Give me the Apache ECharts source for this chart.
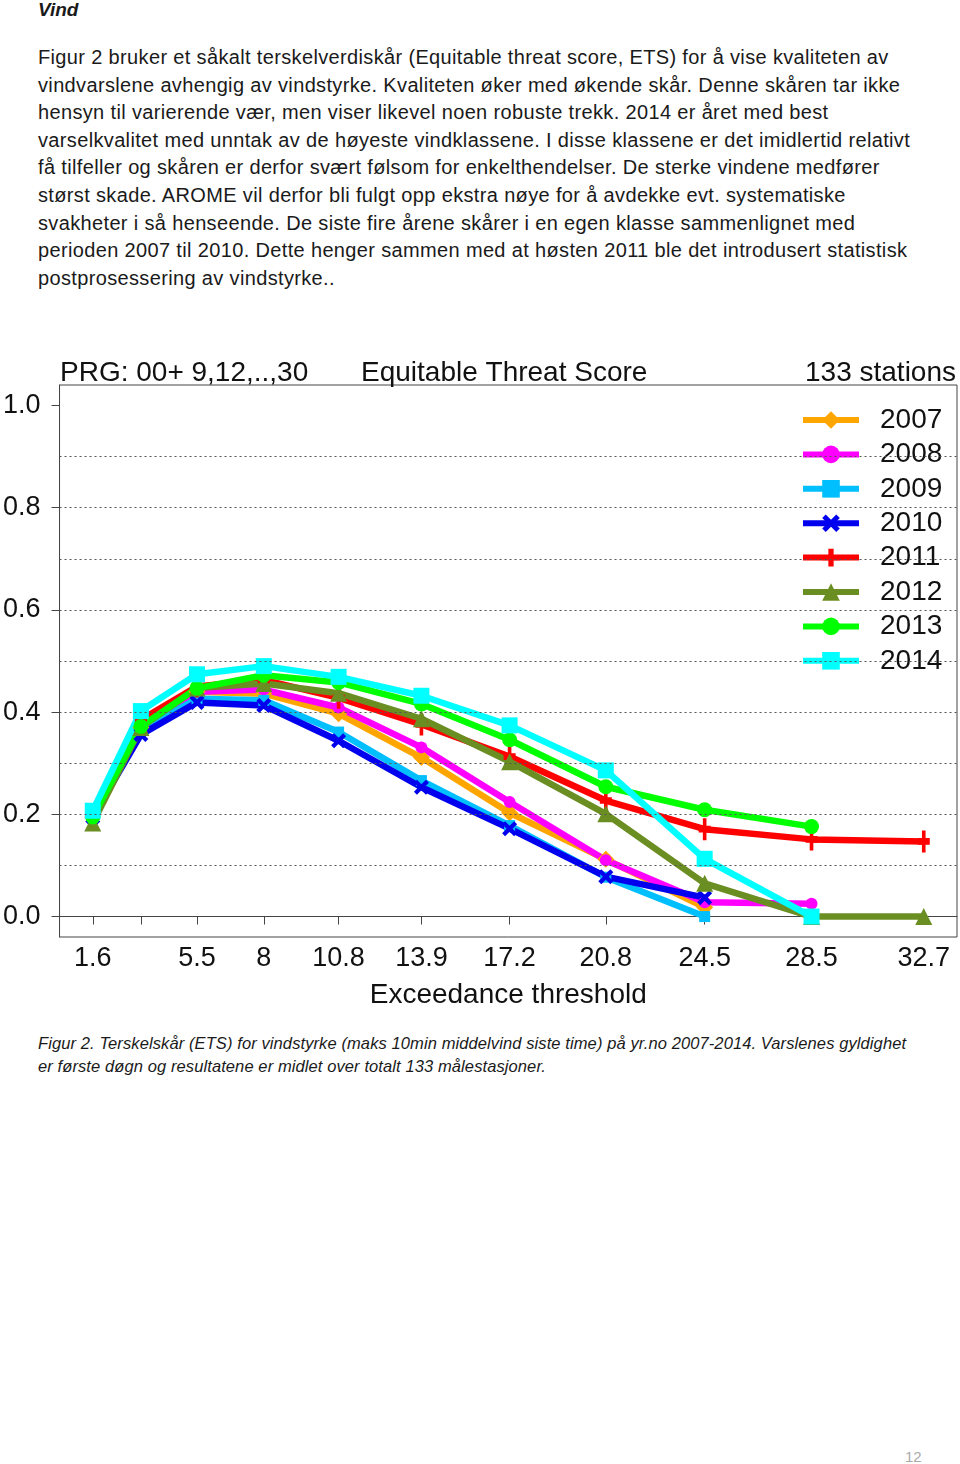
<!DOCTYPE html>
<html>
<head>
<meta charset="utf-8">
<script src="https://cdn.jsdelivr.net/npm/echarts@6/dist/echarts.min.js"></script>
<style>
  html, body { margin: 0; padding: 0; background: #fff; }
  body { width: 960px; height: 1464px; position: relative; overflow: hidden;
         font-family: "Liberation Sans", Arial, Helvetica, sans-serif; color: #1a1a1a; }
  #head { position: absolute; left: 38px; top: -1px; font-size: 19px; font-weight: bold; font-style: italic; }
  #prose { position: absolute; left: 38px; top: 44px; font-size: 20px; letter-spacing: 0.35px; line-height: 27.6px; white-space: pre; }
  #caption { position: absolute; left: 38px; top: 1032px; font-size: 16.5px; letter-spacing: 0.1px; line-height: 23px; font-style: italic; white-space: pre; }
  #page { position: absolute; left: 905px; top: 1448px; font-size: 15px; color: #aaa; }
  #chart { position: absolute; left: 0; top: 340px; width: 960px; height: 680px; }
</style>
</head>
<body>
<div id="head">Vind</div>
<div id="prose">Figur 2 bruker et såkalt terskelverdiskår (Equitable threat score, ETS) for å vise kvaliteten av
vindvarslene avhengig av vindstyrke. Kvaliteten øker med økende skår. Denne skåren tar ikke
hensyn til varierende vær, men viser likevel noen robuste trekk. 2014 er året med best
varselkvalitet med unntak av de høyeste vindklassene. I disse klassene er det imidlertid relativt
få tilfeller og skåren er derfor svært følsom for enkelthendelser. De sterke vindene medfører
størst skade. AROME vil derfor bli fulgt opp ekstra nøye for å avdekke evt. systematiske
svakheter i så henseende. De siste fire årene skårer i en egen klasse sammenlignet med
perioden 2007 til 2010. Dette henger sammen med at høsten 2011 ble det introdusert statistisk
postprosessering av vindstyrke..</div>
<div id="chart"></div>
<div id="caption">Figur 2. Terskelskår (ETS) for vindstyrke (maks 10min middelvind siste time) på yr.no 2007-2014. Varslenes gyldighet
er første døgn og resultatene er midlet over totalt 133 målestasjoner.</div>
<div id="page">12</div>
<script>
// ---- data ----
const thresholds = [1.6, 3.4, 5.5, 8, 10.8, 13.9, 17.2, 20.8, 24.5, 28.5, 32.7];
const xTickLabels = [1.6, 5.5, 8, 10.8, 13.9, 17.2, 20.8, 24.5, 28.5, 32.7];
const yTickValues = [0, 0.2, 0.4, 0.6, 0.8, 1.0];
const gridValues = [0.1, 0.2, 0.3, 0.4, 0.5, 0.6, 0.7, 0.8, 0.9];
const years = ['2007', '2008', '2009', '2010', '2011', '2012', '2013', '2014'];
const ets2007 = [0.195, 0.370, 0.440, 0.436, 0.397, 0.311, 0.203, 0.112, 0.018];
const ets2008 = [0.195, 0.370, 0.440, 0.444, 0.409, 0.331, 0.224, 0.110, 0.028, 0.025];
const ets2009 = [0.200, 0.365, 0.426, 0.423, 0.361, 0.266, 0.178, 0.077, 0.000];
const ets2010 = [0.195, 0.356, 0.419, 0.413, 0.344, 0.253, 0.172, 0.078, 0.037];
const ets2011 = [0.195, 0.385, 0.450, 0.463, 0.428, 0.376, 0.313, 0.227, 0.171, 0.151, 0.147];
const ets2012 = [0.183, 0.370, 0.447, 0.456, 0.437, 0.387, 0.303, 0.201, 0.065, 0.000, 0.000];
const ets2013 = [0.195, 0.372, 0.447, 0.472, 0.458, 0.416, 0.346, 0.254, 0.209, 0.176];
const ets2014 = [0.207, 0.402, 0.474, 0.490, 0.469, 0.432, 0.374, 0.286, 0.113, 0.000];
const seriesValues = [ets2007, ets2008, ets2009, ets2010, ets2011, ets2012, ets2013, ets2014];

// ---- styles ----
const colors = ['#FFA500', '#FF00FF', '#00BFFF', '#0000EE', '#FF0000', '#6B8E23', '#00FF00', '#00FFFF'];
const XPATH = 'path://M0,2 L2,0 L5,3 L8,0 L10,2 L7,5 L10,8 L8,10 L5,7 L2,10 L0,8 L3,5 Z';
const PLUS = 'path://M3.5,0 H6.5 V3.5 H10 V6.5 H6.5 V10 H3.5 V6.5 H0 V3.5 H3.5 Z';
const symbols = ['diamond', 'circle', 'rect', XPATH, PLUS, 'triangle', 'circle', 'rect'];
const symbolSizes = [17, 12, 11, 15, [12, 22], 17, 15, 16];
const FONT = '"Liberation Sans", Arial, Helvetica, sans-serif';

const chart = echarts.init(document.getElementById('chart'), null, { renderer: 'canvas' });

const series = years.map((y, i) => ({
  name: y,
  type: 'line',
  data: seriesValues[i].map((v, j) => [thresholds[j], v]),
  symbol: symbols[i],
  symbolSize: symbolSizes[i],
  showAllSymbol: true,
  lineStyle: { color: colors[i], width: 6.5 },
  itemStyle: { color: colors[i], borderWidth: 0 },
  emphasis: { disabled: true },
  animation: false,
  z: 3
}));
series.unshift({
  name: 'grid',
  type: 'line',
  data: [],
  silent: true,
  animation: false,
  z: 1,
  markLine: {
    silent: true,
    symbol: 'none',
    label: { show: false },
    animation: false,
    lineStyle: { color: '#555', type: [2, 3], width: 1 },
    data: gridValues.map(v => ({ yAxis: v }))
  }
});

chart.setOption({
  animation: false,
  textStyle: { fontFamily: FONT },
  title: [
    { text: 'PRG: 00+ 9,12,..,30', left: 55, top: 14, textStyle: { fontSize: 28, fontWeight: 'normal', color: '#111', fontFamily: FONT } },
    { text: 'Equitable Threat Score', left: 356, top: 14, textStyle: { fontSize: 28, fontWeight: 'normal', color: '#111', fontFamily: FONT } },
    { text: '133 stations', right: -1, top: 14, textStyle: { fontSize: 28, fontWeight: 'normal', color: '#111', fontFamily: FONT } }
  ],
  legend: {
    data: years,
    orient: 'vertical',
    left: 795,
    top: 60,
    itemWidth: 56,
    itemHeight: 22,
    itemGap: 4.4,
    selectedMode: false,
    lineStyle: { width: 6 },
    textStyle: { fontSize: 28, color: '#111', lineHeight: 30, padding: [0, 0, 0, 16], fontFamily: FONT }
  },
  grid: {
    left: 59, right: 3, top: 45, bottom: 83,
    show: true, borderColor: '#444', borderWidth: 1, containLabel: false
  },
  xAxis: {
    type: 'value',
    min: 0.356, max: 33.944,
    name: 'Exceedance threshold',
    nameLocation: 'middle',
    nameGap: 44,
    nameTextStyle: { fontSize: 28, color: '#111', fontFamily: FONT },
    axisLine: { show: true, lineStyle: { color: '#444', width: 1 } },
    axisTick: { show: true, customValues: thresholds, length: 8, lineStyle: { color: '#444' } },
    axisLabel: { customValues: xTickLabels, fontSize: 27, color: '#111', margin: 8,
                 formatter: v => String(v) },
    splitLine: { show: false }
  },
  yAxis: {
    type: 'value',
    min: -0.04, max: 1.04,
    axisLine: { show: true, lineStyle: { color: '#444', width: 1 } },
    axisTick: { show: true, customValues: yTickValues, length: 8, lineStyle: { color: '#444' } },
    axisLabel: { customValues: yTickValues, fontSize: 27, color: '#111', margin: 19,
                 formatter: v => v.toFixed(1) },
    splitLine: { show: false }
  },
  series: series
});
</script>
</body>
</html>
